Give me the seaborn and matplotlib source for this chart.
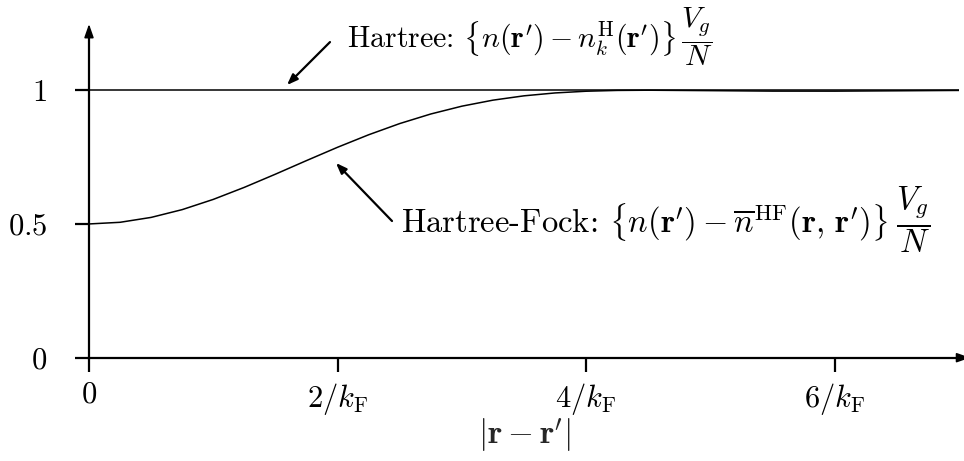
import numpy as np
import pandas as pd
import matplotlib
matplotlib.use("Agg")
import matplotlib.pyplot as plt
import seaborn as sns

# Pair-correlation style curves versus separation (in units of 1/k_F)
r_kf = [0.0, 0.25, 0.5, 0.75, 1.0, 1.25, 1.5, 1.75, 2.0, 2.25, 2.5, 2.75,
        3.0, 3.25, 3.5, 3.75, 4.0, 4.25, 4.5, 5.0, 5.5, 6.0, 6.5, 7.0]
hartree_fock = [0.5000, 0.5062, 0.5245, 0.5536, 0.5918, 0.6369, 0.6861, 0.7369,
                0.7867, 0.8334, 0.8753, 0.9111, 0.9403, 0.9628, 0.9790, 0.9898,
                0.9962, 0.9992, 1.0000, 0.9984, 0.9966, 0.9965, 0.9978, 0.9992]
hartree_r = [0.0, 7.0]
hartree = [1.0, 1.0]

x_ticks = [0, 2, 4, 6]
x_ticklabels = [r"$0$", r"$2/k_{\mathrm{F}}$", r"$4/k_{\mathrm{F}}$", r"$6/k_{\mathrm{F}}$"]
y_ticks = [0, 0.5, 1]
y_ticklabels = [r"$0$", r"$0.5$", r"$1$"]

label_hartree = (r"Hartree: $\left\{n(\mathbf{r}^{\prime})-n_k^{\mathrm{H}}(\mathbf{r}^{\prime})\right\}\,"
                 r"\dfrac{V_g}{N}$")
label_hf = (r"Hartree-Fock: $\left\{n(\mathbf{r}^{\prime})-\overline{n}^{\mathrm{HF}}"
            r"(\mathbf{r},\,\mathbf{r}^{\prime})\right\}\;\dfrac{V_g}{N}$")

sns.set_theme(style="white")
plt.rcParams["font.family"] = "serif"
plt.rcParams["font.serif"] = ["cmr10", "DejaVu Serif"]
plt.rcParams["mathtext.fontset"] = "cm"
plt.rcParams["axes.formatter.use_mathtext"] = True

fig = plt.figure(figsize=(9.64, 4.61), dpi=100)
ax = fig.add_axes([89 / 964, 103.3 / 461, 870 / 964, (357.7 - 35) / 461])

df_hf = pd.DataFrame({"r": r_kf, "g": hartree_fock})
df_h = pd.DataFrame({"r": hartree_r, "g": hartree})
sns.lineplot(data=df_h, x="r", y="g", ax=ax, color="black", lw=1.1)
sns.lineplot(data=df_hf, x="r", y="g", ax=ax, color="black", lw=1.1)

ax.set_xlim(0, 7.0)
ax.set_ylim(0, 1.2064)

for side in ("top", "right"):
    ax.spines[side].set_visible(False)
for side in ("left", "bottom"):
    ax.spines[side].set_linewidth(1.6)
    ax.spines[side].set_color("black")

ax.set_xticks(x_ticks)
ax.set_xticklabels(x_ticklabels)
ax.set_yticks(y_ticks)
ax.set_yticklabels(y_ticklabels)
ax.tick_params(axis="both", direction="out", length=10, width=1.6, color="black",
               labelsize=22, labelcolor="black", bottom=True, left=True)
ax.tick_params(axis="y", pad=20)
ax.tick_params(axis="x", pad=7)
ax.set_xlabel(r"$|\mathbf{r}-\mathbf{r}^{\prime}|$", fontsize=24, labelpad=0)
ax.set_ylabel("")

# axis arrowheads
axis_head = dict(arrowstyle="-|>,head_length=0.4,head_width=0.14", color="black",
                 lw=1.2, shrinkA=0, shrinkB=0, mutation_scale=20)
ax.annotate("", xy=(0, 1.2475), xytext=(0, 1.2064), xycoords="data",
            arrowprops=axis_head, annotation_clip=False)
ax.annotate("", xy=(7.09, 0), xytext=(7.0, 0), xycoords="data",
            arrowprops=axis_head, annotation_clip=False)

# labelled pointers
ptr = dict(arrowstyle="-|>,head_length=0.45,head_width=0.17", color="black",
           lw=1.6, shrinkA=0, shrinkB=0, mutation_scale=14)
ax.annotate("", xy=(1.593, 1.0194), xytext=(1.939, 1.180), arrowprops=ptr,
            annotation_clip=False)
ax.annotate("", xy=(1.987, 0.728), xytext=(2.438, 0.511), arrowprops=ptr,
            annotation_clip=False)

ax.text(2.076, 1.157, label_hartree, fontsize=21.5, ha="left", va="baseline",
        color="black")
ax.text(2.510, 0.466, label_hf, fontsize=23.5, ha="left", va="baseline",
        color="black")

fig.savefig("out.png", dpi=100)
